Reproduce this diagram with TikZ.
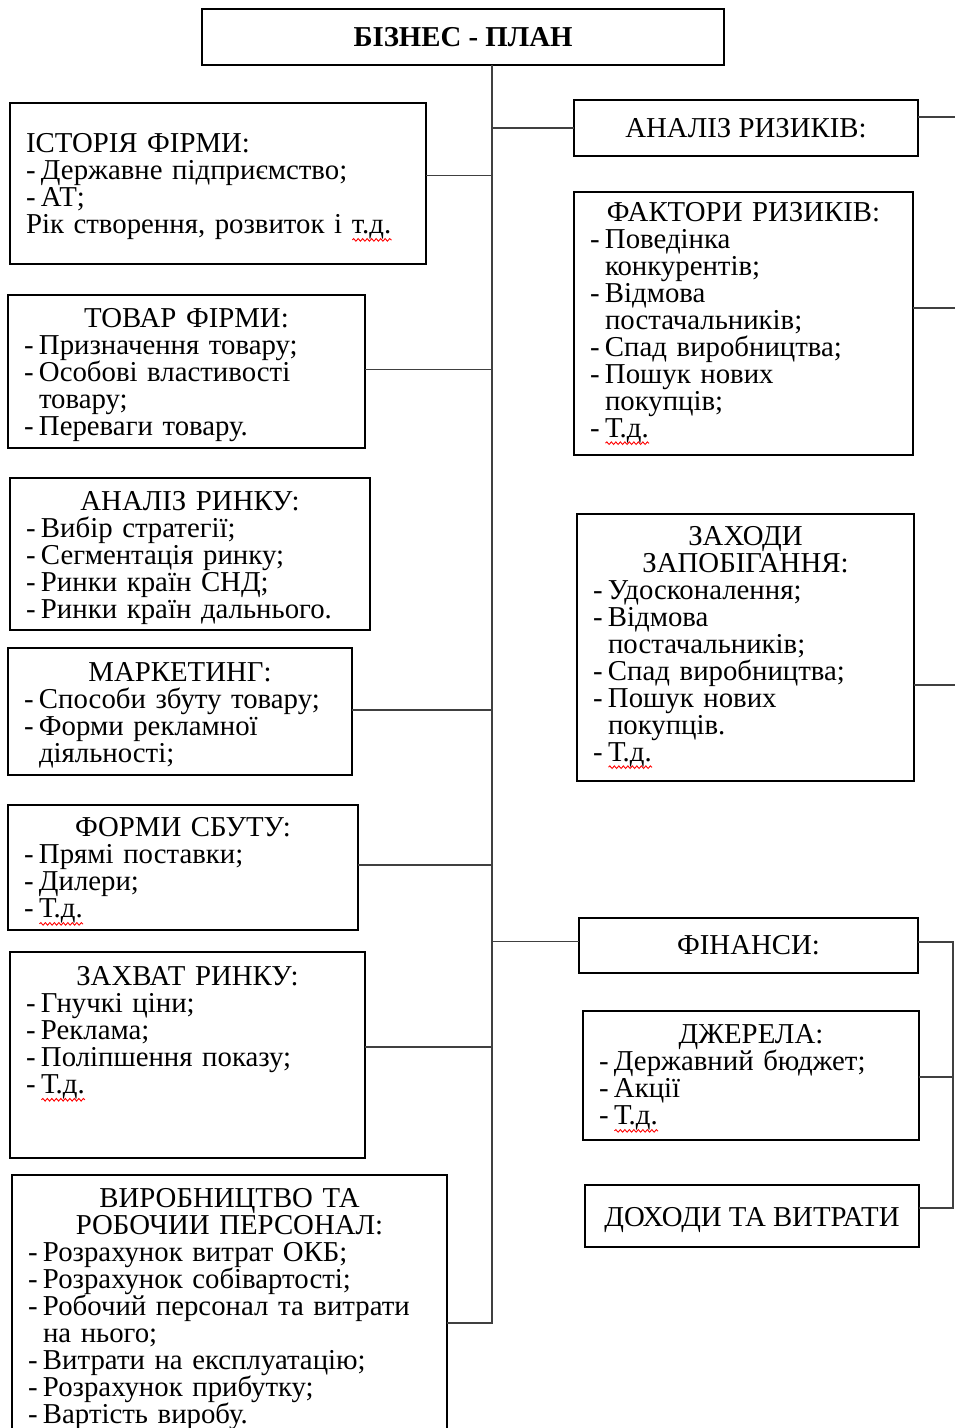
\documentclass[tikz,border=0pt]{standalone}
\usepackage{fontspec}
\setmainfont{Liberation Serif}
\usetikzlibrary{positioning}
\usetikzlibrary{decorations.pathmorphing}

\newlength{\spellwd}
\newcommand{\spell}[1]{\settowidth{\spellwd}{#1}%
	\rlap{\tikz[baseline=0pt]\draw[red, line width=0.9pt, decorate, decoration={snake, amplitude=1.3pt, segment length=4.5pt}] (0pt,-6pt) -- (\spellwd,-6pt);}#1}
\newcommand{\itemdash}{\makebox[15pt][l]{-}}
\newcommand{\itemgap}{\hspace*{15pt}}
\newcommand{\boxhead}[1]{\hfill #1\hfill\null}
\newcommand{\topstrut}[1]{\rule{0pt}{#1}}
\newcommand{\boxfont}{\fontsize{28.8}{27}\selectfont\setlength{\lineskiplimit}{-60pt}}

\begin{document}
\begin{tikzpicture}[x=1pt,y=-1pt,
	box/.style={draw, line width=1.8pt, outer sep=0pt, inner xsep=16pt, inner ysep=0pt,
		anchor=north west, align=left, font=\boxfont},
	headbox/.style={box, align=center},
	link/.style={line width=1.2pt, draw=black!75}]
	\useasboundingbox (0,0) rectangle (954,1428);
	
	% Title
	\node[headbox, font=\boxfont\bfseries, minimum width=522pt, minimum height=56pt] (plan) at (202,9) {БІЗНЕС - ПЛАН};
	
	% Left column
	\node[box, minimum width=416pt, text width=384pt, minimum height=161pt] (history) at (10,103)
		{\topstrut{27.5pt}ІСТОРІЯ ФІРМИ:\\ \itemdash Державне підприємство;\\ \itemdash АТ;\\ Рік створення, розвиток і \spell{т.д.}};
	\node[box, minimum width=357pt, text width=325pt, minimum height=153pt] (goods) at (8,295)
		{\topstrut{25.5pt}\boxhead{ТОВАР ФІРМИ:}\\ \itemdash Призначення товару;\\ \itemdash Особові властивості\\ \itemgap товару;\\ \itemdash Переваги товару.};
	\node[box, minimum width=360pt, text width=328pt, minimum height=152pt] (market) at (10,478)
		{\topstrut{27.5pt}\boxhead{АНАЛІЗ РИНКУ:}\\ \itemdash Вибір стратегії;\\ \itemdash Сегментація ринку;\\ \itemdash Ринки країн СНД;\\ \itemdash Ринки країн дальнього.};
	\node[box, minimum width=344pt, text width=312pt, minimum height=127pt] (marketing) at (8,648)
		{\topstrut{27.5pt}\boxhead{МАРКЕТИНГ:}\\ \itemdash Способи збуту товару;\\ \itemdash Форми рекламної\\ \itemgap діяльності;};
	\node[box, minimum width=350pt, text width=318pt, minimum height=125pt] (sales) at (8,805)
		{\topstrut{27.5pt}\boxhead{ФОРМИ СБУТУ:}\\ \itemdash Прямі поставки;\\ \itemdash Дилери;\\ \itemdash \spell{Т.д.}};
	\node[box, minimum width=355pt, text width=323pt, minimum height=206pt] (capture) at (10,952)
		{\topstrut{23.5pt}\boxhead{ЗАХВАТ РИНКУ:}\\ \itemdash Гнучкі ціни;\\ \itemdash Реклама;\\ \itemdash Поліпшення показу;\\ \itemdash \spell{Т.д.}\\ \mbox{}\\ \mbox{}};
	\node[box, minimum width=435pt, text width=403pt, minimum height=262pt] (production) at (12,1175)
		{\topstrut{25.5pt}\boxhead{ВИРОБНИЦТВО ТА}\\ \boxhead{РОБОЧИИ ПЕРСОНАЛ:}\\ \itemdash Розрахунок витрат ОКБ;\\ \itemdash Розрахунок собівартості;\\ \itemdash Робочий персонал та витрати\\ \itemgap на нього;\\ \itemdash Витрати на експлуатацію;\\ \itemdash Розрахунок прибутку;\\ \itemdash Вартість виробу.};
	
	% Right column
	\node[headbox, minimum width=344pt, minimum height=56pt] (risks) at (574,100) {АНАЛІЗ РИЗИКІВ:};
	\node[box, minimum width=339pt, text width=307pt, minimum height=263pt] (factors) at (574,192)
		{\boxhead{ФАКТОРИ РИЗИКІВ:}\\ \itemdash Поведінка\\ \itemgap конкурентів;\\ \itemdash Відмова\\ \itemgap постачальників;\\ \itemdash Спад виробництва;\\ \itemdash Пошук нових\\ \itemgap покупців;\\ \itemdash \spell{Т.д.}};
	\node[box, minimum width=337pt, text width=305pt, minimum height=267pt] (prevention) at (577,514)
		{\boxhead{ЗАХОДИ}\\ \boxhead{ЗАПОБІГАННЯ:}\\ \itemdash Удосконалення;\\ \itemdash Відмова\\ \itemgap постачальників;\\ \itemdash Спад виробництва;\\ \itemdash Пошук нових\\ \itemgap покупців.\\ \itemdash \spell{Т.д.}};
	\node[headbox, minimum width=339pt, minimum height=55pt] (finance) at (579,918) {ФІНАНСИ:};
	\node[box, minimum width=336pt, text width=304pt, minimum height=129pt] (sources) at (583,1011)
		{\topstrut{25.5pt}\boxhead{ДЖЕРЕЛА:}\\ \itemdash Державний бюджет;\\ \itemdash Акції\\ \itemdash \spell{Т.д.}};
	\node[headbox, minimum width=334pt, minimum height=62pt] (income) at (585,1185) {\topstrut{27.5pt}ДОХОДИ ТА ВИТРАТИ};
	
	% Trunk
	\coordinate (trunk) at (492,1323);
	\coordinate (edge) at (962,0);
	\coordinate (rail) at (953,0);
	\draw[link] (plan.south -| trunk) -- (trunk) -- (production.east |- trunk);
	
	% Branches to the left
	\draw[link] ([yshift=8pt]history.east) -- ([yshift=8pt]history.east -| trunk);
	\draw[link] ([yshift=2pt]goods.east) -- ([yshift=2pt]goods.east -| trunk);
	\draw[link] ([yshift=1.5pt]marketing.east) -- ([yshift=1.5pt]marketing.east -| trunk);
	\draw[link] ([yshift=2.5pt]sales.east) -- ([yshift=2.5pt]sales.east -| trunk);
	\draw[link] ([yshift=8pt]capture.east) -- ([yshift=8pt]capture.east -| trunk);
	
	% Branches to the right
	\draw[link] (risks.west -| trunk) -- (risks.west);
	\draw[link] ([yshift=4pt]finance.west -| trunk) -- ([yshift=4pt]finance.west);
	
	% Lines leaving the page
	\draw[link] ([yshift=11pt]risks.east) -- ([yshift=11pt]risks.east -| edge);
	\draw[link] ([yshift=15.5pt]factors.east) -- ([yshift=15.5pt]factors.east -| edge);
	\draw[link] ([yshift=-37.5pt]prevention.east) -- ([yshift=-37.5pt]prevention.east -| edge);
	
	% Finance rail
	\draw[link] ([yshift=3.5pt]finance.east) -- ([yshift=3.5pt]finance.east -| rail) -- ([yshift=8pt]income.east -| rail) -- ([yshift=8pt]income.east);
	\draw[link] ([yshift=-1.5pt]sources.east) -- ([yshift=-1.5pt]sources.east -| rail);
\end{tikzpicture}
\end{document}
